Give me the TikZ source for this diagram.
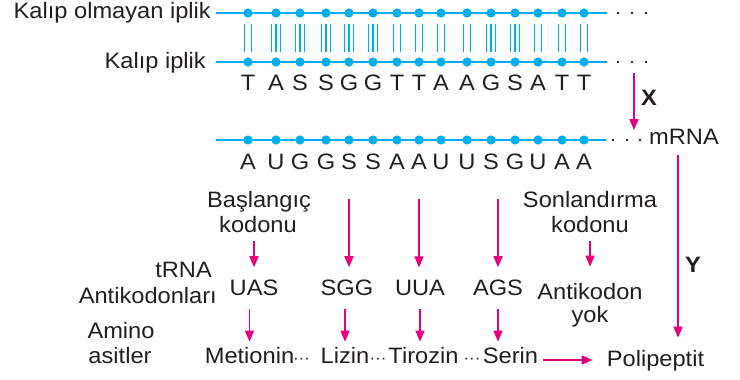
\documentclass[tikz,border=0pt]{standalone}
\usepackage{fontspec}
\setmainfont{Liberation Sans}[FakeStretch=1.06]
\usetikzlibrary{arrows.meta}
\definecolor{pk}{HTML}{E6007E}
\definecolor{bl}{HTML}{00AEEF}
\definecolor{tc}{HTML}{231F20}
\begin{document}
\begin{tikzpicture}[x=1pt,y=-1pt,
  lbl/.style={inner sep=0pt, text=tc, font=\fontsize{22.3}{25}\selectfont},
  ell/.style={inner sep=0pt, text=tc, font=\fontsize{16}{18}\selectfont},
  parr/.style={draw=pk, line width=1.4pt, -{Triangle[width=9pt,length=11pt]}},
  strand/.style={draw=bl, line width=1.5pt},
  bar/.style={draw=bl, line width=1.3pt},
  ]
\useasboundingbox[fill=white] (0,0) rectangle (740,380);

% strands
\draw[strand] (216,13) -- (607,13);
\draw[strand] (216,62) -- (607,62);
\draw[strand] (216,140) -- (606,140);
\foreach \x in {248,276,300,326,349,373,397,419,441,467,491,515,538,562,584} {
  \fill[bl] (\x,13) circle (4.6pt);
  \fill[bl] (\x,62) circle (4.6pt);
  \fill[bl] (\x,140) circle (4.6pt);
}
% hydrogen bonds
\foreach \x in {248,397,419,441,467,538,562,584} {
  \draw[bar] ({\x-3.3},24) -- ({\x-3.3},52);
  \draw[bar] ({\x+3.3},24) -- ({\x+3.3},52);
}
\foreach \x in {276,300,326,349,373,491,515} {
  \draw[bar] ({\x-4.2},24) -- ({\x-4.2},52);
  \draw[bar] (\x,24) -- (\x,52);
  \draw[bar] ({\x+4.2},24) -- ({\x+4.2},52);
}
% continuation dots
\foreach \x in {618,632,646} {
  \fill[tc] (\x,13) circle (1.3pt);
  \fill[tc] (\x,62) circle (1.3pt);
}
\foreach \x in {613,627,640} \fill[tc] (\x,140) circle (1.3pt);

% strand labels
\node[lbl, anchor=base east] (lk1) at (211,19) {Kalıp olmayan iplik};
\node[lbl, anchor=base east] (lk2) at (206,68) {Kalıp iplik};
\node[lbl, anchor=base west] (mrna) at (649,144) {mRNA};

% letters
\foreach \x/\l [count=\i] in {248/T,276/A,300/S,326/S,349/G,373/G,397/T,419/T,441/A,467/A,491/G,515/S,538/A,562/T,584/T}
  \node[lbl, anchor=base] (t\i) at (\x,90.5) {\l};
\foreach \x/\l [count=\i] in {248/A,276/U,300/G,326/G,349/S,373/S,397/A,419/A,441/U,467/U,491/S,515/G,538/U,562/A,584/A}
  \node[lbl, anchor=base] (m\i) at (\x,169) {\l};

% X and Y
\node[lbl, anchor=base, font=\fontsize{22.3}{25}\selectfont\bfseries] (xl) at (649,105) {X};
\node[lbl, anchor=base, font=\fontsize{22.3}{25}\selectfont\bfseries] (yl) at (693,272) {Y};
\coordinate (xa) at (634,73);
\coordinate (xb) at (634,130);
\draw[parr] (xa) -- (xb);

% codon labels
\node[lbl, anchor=base] (bas) at (259,207) {Başlangıç};
\node[lbl, anchor=base] (kod1) at (258,232) {kodonu};
\node[lbl, anchor=base] (son) at (590,207) {Sonlandırma};
\node[lbl, anchor=base] (kod2) at (590,232) {kodonu};

% row labels
\node[lbl, anchor=base east] (trna) at (212,277) {tRNA};
\node[lbl, anchor=base east] (anti) at (217,303) {Antikodonları};
\node[lbl, anchor=base] (amino) at (121,338) {Amino};
\node[lbl, anchor=base] (asit) at (120,363) {asitler};

% anticodons
\node[lbl, anchor=base] (uas) at (254,295) {UAS};
\node[lbl, anchor=base] (sgg) at (347,295) {SGG};
\node[lbl, anchor=base] (uua) at (420,295) {UUA};
\node[lbl, anchor=base] (ags) at (498,295) {AGS};
\node[lbl, anchor=base] (antk) at (590,299) {Antikodon};
\node[lbl, anchor=base] (yok) at (590,322) {yok};

% amino acids
\node[lbl, anchor=base] (met) at (249.5,363) {Metionin};
\node[ell, anchor=base] (d1) at (301.5,363) {···};
\node[lbl, anchor=base] (liz) at (345,363) {Lizin};
\node[ell, anchor=base] (d2) at (378,363) {···};
\node[lbl, anchor=base] (tir) at (423.5,363) {Tirozin};
\node[ell, anchor=base] (d3) at (472,363) {···};
\node[lbl, anchor=base] (ser) at (510.5,363) {Serin};
\node[lbl, anchor=base] (poli) at (655.5,366) {Polipeptit};

% arrows
\draw[parr, shorten <=9pt, shorten >=12pt] (kod1.south -| uas.north) -- (uas.north);
\draw[parr, shorten <=30pt, shorten >=12pt] (m5.south) -- (m5.south |- sgg.north);
\draw[parr, shorten <=30pt, shorten >=12pt] (m8.south) -- (m8.south |- uua.north);
\draw[parr, shorten <=30pt, shorten >=12pt] (m11.south -| ags.north) -- (ags.north);
\draw[parr, shorten <=9pt, shorten >=16pt] (kod2.south) -- (antk.north);
\draw[parr, shorten <=14pt, shorten >=5pt] (uas.south -| met.north) -- (met.north);
\draw[parr, shorten <=14pt, shorten >=5pt] (sgg.south -| liz.north) -- (liz.north);
\draw[parr, shorten <=14pt, shorten >=5pt] (uua.south) -- (uua.south |- tir.north);
\draw[parr, shorten <=14pt, shorten >=5pt] (ags.south) -- (ags.south |- ser.north);
\draw[parr, shorten <=5pt, shorten >=14pt] ([yshift=3pt]ser.base east) -- ([yshift=3pt]ser.base east -| poli.west);
\coordinate (yx) at (678,0);
\draw[parr, shorten <=11pt, shorten >=12pt] (mrna.south -| yx) -- (poli.north -| yx);
\end{tikzpicture}
\end{document}
